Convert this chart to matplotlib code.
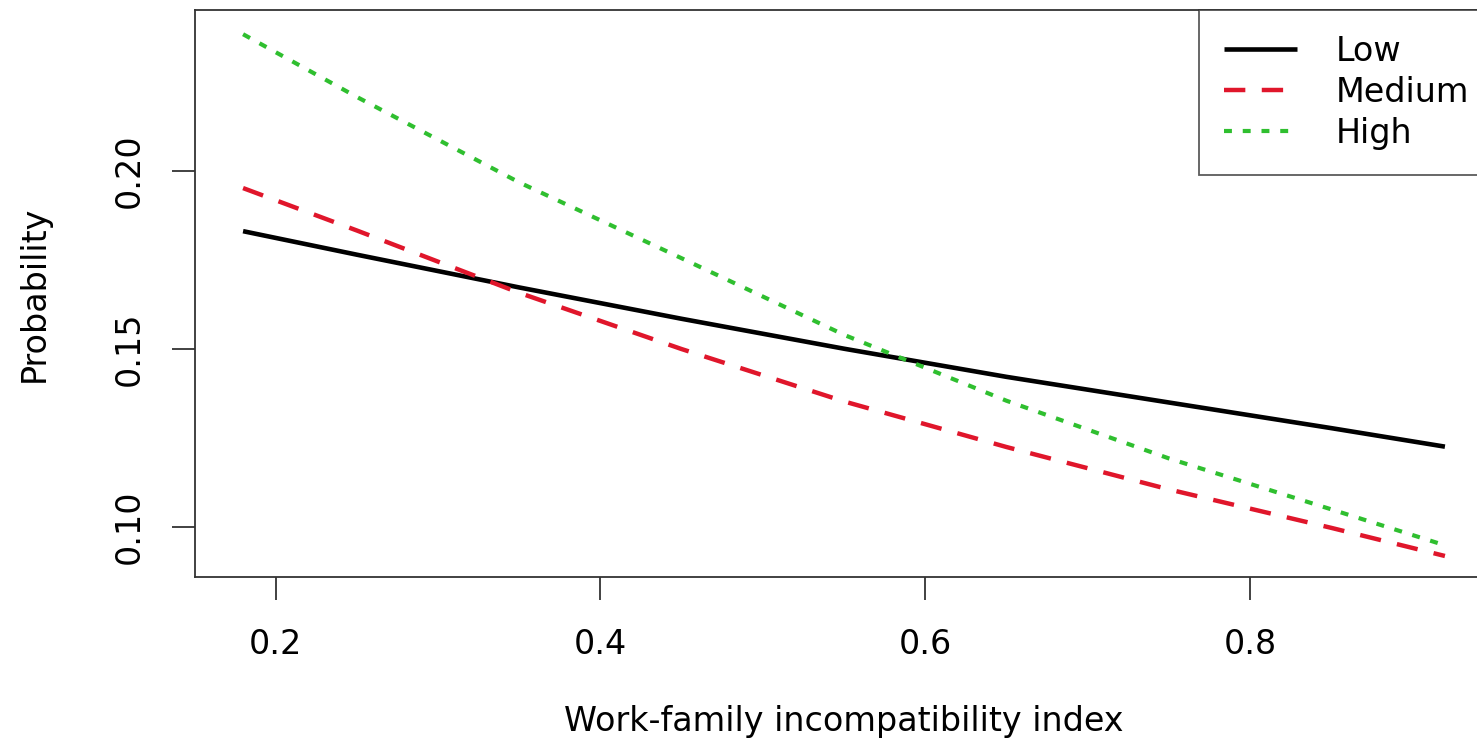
import numpy as np
import matplotlib.pyplot as plt

# predicted probability vs. work-family incompatibility index
x = [0.18, 0.25, 0.35, 0.45, 0.55, 0.65, 0.75, 0.85, 0.92]
low = [0.1831, 0.1765, 0.1673, 0.1585, 0.1501, 0.1422, 0.1350, 0.1278, 0.1226]
medium = [0.1952, 0.1833, 0.1658, 0.1500, 0.1353, 0.1225, 0.1106, 0.0998, 0.0919]
high = [0.2384, 0.2208, 0.1968, 0.1755, 0.1540, 0.1355, 0.1193, 0.1050, 0.0949]

xticks = [0.2, 0.4, 0.6, 0.8]
xticklabels = ['0.2', '0.4', '0.6', '0.8']
yticks = [0.10, 0.15, 0.20]
yticklabels = ['0.10', '0.15', '0.20']

plt.rcParams['font.family'] = ['DejaVu Sans']
fs = 24

fig = plt.figure(figsize=(14.77, 7.46), dpi=100)
# axes box runs past the right edge of the image, as in the reference
ax = fig.add_axes([195 / 1477, (746 - 577) / 746, 1298 / 1477, 567 / 746])

ax.plot(x, low, color='black', lw=3.3, label='Low', solid_capstyle='butt')
ax.plot(x, medium, color='#e0162b', lw=3.2, dashes=(4.8, 3.7), label='Medium')
ax.plot(x, high, color='#2fbf2f', lw=3.0, dashes=(1.9, 2.6), label='High')

ax.set_xlim(0.1504, 0.9496)
ax.set_ylim(0.0860, 0.2452)
ax.set_xticks(xticks)
ax.set_xticklabels(xticklabels)
ax.set_yticks(yticks)
ax.set_yticklabels(yticklabels, rotation=90, va='center')

for s in ax.spines.values():
    s.set_linewidth(1.3)
    s.set_color('#333333')
ax.tick_params(axis='both', length=16.5, width=1.3, color='#333333', labelsize=fs)
ax.tick_params(axis='x', pad=20)
ax.tick_params(axis='y', pad=19)

ax.set_xlabel('Work-family incompatibility index', fontsize=fs, va='center')
ax.xaxis.set_label_coords(0.5, -0.254)
ax.set_ylabel('Probability', fontsize=fs, va='center')
ax.yaxis.set_label_coords(-0.124, 0.5)

leg = ax.legend(loc='upper left', bbox_to_anchor=((1199 - 195) / 1298, 1.0),
                borderaxespad=0, fontsize=fs, frameon=True, fancybox=False,
                handlelength=2.2, handletextpad=1.15, borderpad=0.75,
                labelspacing=0.24)
leg.get_frame().set_edgecolor('#333333')
leg.get_frame().set_linewidth(1.3)

fig.savefig('out.png', dpi=100)
